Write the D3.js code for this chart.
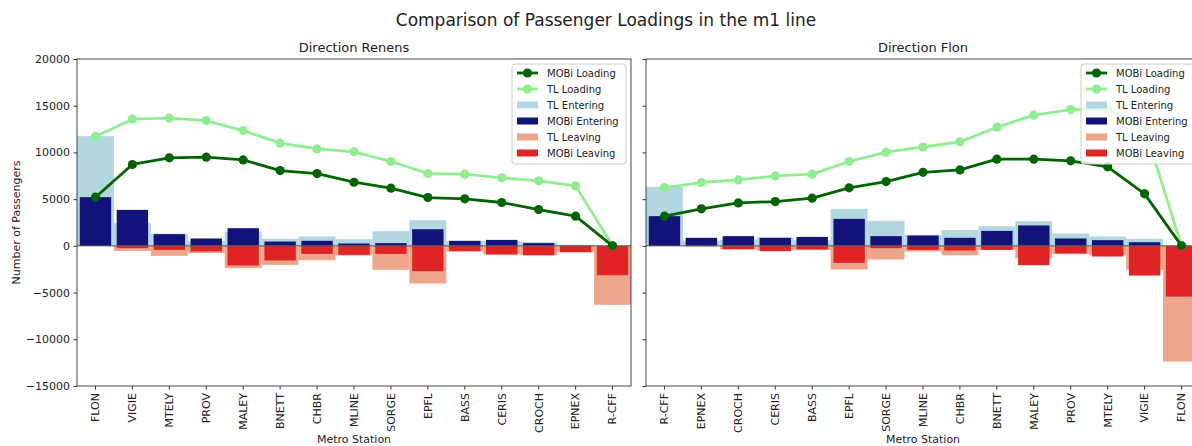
<!DOCTYPE html>
<html>
<head>
<meta charset="utf-8">
<script src="https://cdn.jsdelivr.net/npm/d3@7"></script>
<style>
  html, body { margin: 0; padding: 0; background: #fff; }
  svg { display: block; font-family: "DejaVu Sans", sans-serif; }
</style>
</head>
<body>
<svg id="chart" width="1192" height="446"></svg>
<script>
// ---- Direction Renens (FLON -> R-CFF) ----
const stationsRenens = ["FLON","VIGIE","MTELY","PROV","MALEY","BNETT","CHBR","MLINE","SORGE","EPFL","BASS","CERIS","CROCH","EPNEX","R-CFF"];
const renensMobiLoading = [5210, 8710, 9420, 9490, 9200, 8060, 7740, 6810, 6170, 5170, 5030, 4640, 3890, 3180, 0];
const renensTlLoading   = [11700, 13560, 13670, 13410, 12340, 10990, 10380, 10060, 9030, 7740, 7670, 7280, 6960, 6420, 0];
const renensTlEntering  = [11740, 2430, 1320, 520, 1530, 750, 1000, 710, 1570, 2750, 500, 510, 400, 140, 0];
const renensMobiEntering= [5210, 3850, 1250, 790, 1890, 460, 540, 250, 290, 1780, 540, 640, 290, 0, 0];
const renensTlLeaving   = [0, -540, -1070, -780, -2390, -2030, -1530, -1030, -2570, -4030, -600, -900, -1000, -680, -6310];
const renensMobiLeaving = [0, -250, -430, -600, -2100, -1570, -860, -960, -860, -2710, -570, -930, -1000, -680, -3150];

// ---- Direction Flon (R-CFF -> FLON) ----
const stationsFlon = ["R-CFF","EPNEX","CROCH","CERIS","BASS","EPFL","SORGE","MLINE","CHBR","BNETT","MALEY","PROV","MTELY","VIGIE","FLON"];
const flonMobiLoading = [3180, 3960, 4600, 4740, 5100, 6210, 6880, 7870, 8130, 9280, 9280, 9100, 8460, 5570, 0];
const flonTlLoading   = [6240, 6780, 7060, 7490, 7670, 9030, 10030, 10580, 11130, 12700, 13990, 14590, 14600, 12630, 0];
const flonTlEntering  = [6310, 560, 670, 900, 610, 3960, 2680, 1150, 1680, 2100, 2640, 1320, 1000, 750, 0];
const flonMobiEntering= [3180, 860, 1040, 860, 960, 2890, 1040, 1110, 860, 1600, 2180, 790, 610, 390, 0];
const flonTlLeaving   = [0, -20, -390, -500, -430, -2530, -1460, -600, -1000, -430, -1320, -860, -1030, -2570, -12380];
const flonMobiLeaving = [0, -50, -360, -570, -390, -1820, -250, -430, -500, -430, -2070, -820, -1140, -3180, -5430];

const yTicks = [-15000, -10000, -5000, 0, 5000, 10000, 15000, 20000];

const colors = {
  mobiLoading: "#006400",
  tlLoading: "#90ee90",
  tlEntering: "#b3d7e1",
  mobiEntering: "#12127a",
  tlLeaving: "#eda68b",
  mobiLeaving: "#e02424"
};

const svg = d3.select("#chart");
const textColor = "#222";

svg.append("text")
  .attr("x", 606).attr("y", 26)
  .attr("text-anchor", "middle")
  .attr("font-size", 17).attr("fill", textColor)
  .text("Comparison of Passenger Loadings in the m1 line");

const plotTop = 59, plotBottom = 386;
const y = d3.scaleLinear().domain([-15000, 20000]).range([plotBottom, plotTop]);

function drawPanel(opts) {
  const { left, width, title, stations, mobiLoading, tlLoading, tlEntering,
          mobiEntering, tlLeaving, mobiLeaving, showYLabels } = opts;
  const g = svg.append("g");
  const x = d3.scaleBand().domain(stations).range([left, left + width]).paddingInner(0).paddingOuter(0);
  const bw = x.bandwidth();
  const cx = s => x(s) + bw / 2;

  const clipId = "clip-" + left;
  svg.append("clipPath").attr("id", clipId)
    .append("rect").attr("x", left).attr("y", plotTop).attr("width", width).attr("height", plotBottom - plotTop);
  const plot = g.append("g").attr("clip-path", `url(#${clipId})`);

  function bars(values, color, frac) {
    plot.append("g").selectAll("rect")
      .data(stations.map((s, i) => ({ s, v: values[i] })))
      .join("rect")
      .attr("x", d => cx(d.s) - bw * frac / 2)
      .attr("width", bw * frac)
      .attr("y", d => Math.min(y(d.v), y(0)))
      .attr("height", d => Math.abs(y(d.v) - y(0)))
      .attr("fill", color);
  }
  bars(tlEntering, colors.tlEntering, 1.0);
  bars(mobiEntering, colors.mobiEntering, 0.85);
  bars(tlLeaving, colors.tlLeaving, 1.0);
  bars(mobiLeaving, colors.mobiLeaving, 0.85);

  // zero reference line
  plot.append("line")
    .attr("x1", left).attr("x2", left + width)
    .attr("y1", y(0)).attr("y2", y(0))
    .attr("stroke", "#555").attr("stroke-width", 1);

  function loadLine(values, color) {
    const pts = stations.map((s, i) => [cx(s), y(values[i])]);
    plot.append("path").attr("d", d3.line()(pts))
      .attr("fill", "none").attr("stroke", color).attr("stroke-width", 2.8)
      .attr("stroke-linejoin", "round");
    plot.append("g").selectAll("circle").data(pts).join("circle")
      .attr("cx", d => d[0]).attr("cy", d => d[1]).attr("r", 4.6)
      .attr("fill", color);
  }
  loadLine(tlLoading, colors.tlLoading);
  loadLine(mobiLoading, colors.mobiLoading);

  // frame
  g.append("rect").attr("x", left).attr("y", plotTop).attr("width", width).attr("height", plotBottom - plotTop)
    .attr("fill", "none").attr("stroke", "#333").attr("stroke-width", 0.9);

  // axes
  const yAxis = d3.axisLeft(y).tickValues(yTicks).tickSize(3.5).tickPadding(3.5)
    .tickFormat(showYLabels ? (d => d3.format("d")(d).replace("-", "\u2212")) : () => "");
  const ya = g.append("g").attr("transform", `translate(${left},0)`).call(yAxis);
  ya.select(".domain").remove();
  ya.selectAll("line").attr("stroke", "#333");
  ya.selectAll("text").attr("font-size", 11).attr("fill", textColor).attr("font-family", "DejaVu Sans");

  const xAxis = d3.axisBottom(x).tickSize(3.5).tickPadding(3);
  const xa = g.append("g").attr("transform", `translate(0,${plotBottom})`).call(xAxis);
  xa.select(".domain").remove();
  xa.selectAll("line").attr("stroke", "#333");
  xa.selectAll("text")
    .attr("font-size", 11).attr("fill", textColor).attr("font-family", "DejaVu Sans")
    .attr("transform", "rotate(-90)")
    .attr("text-anchor", "end")
    .attr("x", -7).attr("y", 0).attr("dy", "0.35em");

  g.append("text").attr("x", left + width / 2).attr("y", 443)
    .attr("text-anchor", "middle").attr("font-size", 11).attr("fill", textColor)
    .text("Metro Station");

  g.append("text").attr("x", left + width / 2).attr("y", 52)
    .attr("text-anchor", "middle").attr("font-size", 13).attr("fill", textColor)
    .text(title);

  // legend
  const lx = left + width - 5 - 114, ly = 64;
  const lg = g.append("g");
  lg.append("rect").attr("x", lx).attr("y", ly).attr("width", 114).attr("height", 100)
    .attr("rx", 3).attr("fill", "#fff").attr("fill-opacity", 0.8)
    .attr("stroke", "#ccc").attr("stroke-width", 1);
  const items = [
    { label: "MOBi Loading", color: colors.mobiLoading, type: "line" },
    { label: "TL Loading", color: colors.tlLoading, type: "line" },
    { label: "TL Entering", color: colors.tlEntering, type: "patch" },
    { label: "MOBi Entering", color: colors.mobiEntering, type: "patch" },
    { label: "TL Leaving", color: colors.tlLeaving, type: "patch" },
    { label: "MOBi Leaving", color: colors.mobiLeaving, type: "patch" }
  ];
  items.forEach((it, i) => {
    const yy = ly + 9 + i * 16;
    if (it.type === "line") {
      lg.append("line").attr("x1", lx + 5).attr("x2", lx + 26).attr("y1", yy).attr("y2", yy)
        .attr("stroke", it.color).attr("stroke-width", 2.8);
      lg.append("circle").attr("cx", lx + 15.5).attr("cy", yy).attr("r", 4.6).attr("fill", it.color);
    } else {
      lg.append("rect").attr("x", lx + 5).attr("y", yy - 3.5).attr("width", 21).attr("height", 7)
        .attr("fill", it.color);
    }
    lg.append("text").attr("x", lx + 35).attr("y", yy).attr("dy", "0.35em")
      .attr("font-size", 10).attr("fill", textColor).text(it.label);
  });
}

drawPanel({
  left: 77, width: 554, title: "Direction Renens", stations: stationsRenens,
  mobiLoading: renensMobiLoading, tlLoading: renensTlLoading,
  tlEntering: renensTlEntering, mobiEntering: renensMobiEntering,
  tlLeaving: renensTlLeaving, mobiLeaving: renensMobiLeaving, showYLabels: true
});
drawPanel({
  left: 646, width: 554, title: "Direction Flon", stations: stationsFlon,
  mobiLoading: flonMobiLoading, tlLoading: flonTlLoading,
  tlEntering: flonTlEntering, mobiEntering: flonMobiEntering,
  tlLeaving: flonTlLeaving, mobiLeaving: flonMobiLeaving, showYLabels: false
});

svg.append("text")
  .attr("transform", `translate(20,${(plotTop + plotBottom) / 2}) rotate(-90)`)
  .attr("text-anchor", "middle").attr("font-size", 11).attr("fill", textColor)
  .text("Number of Passengers");
</script>
</body>
</html>
